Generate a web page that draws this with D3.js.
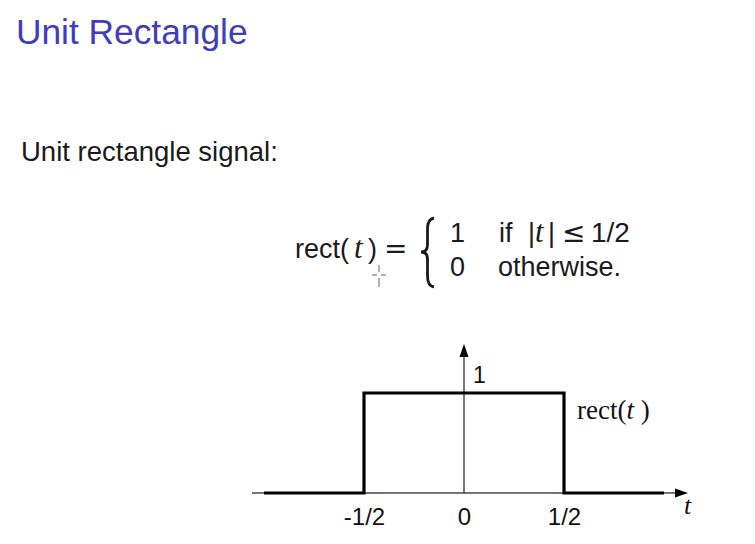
<!DOCTYPE html>
<html><head><meta charset="utf-8">
<script src="https://cdn.jsdelivr.net/npm/d3@7"></script>
<style>
html,body{margin:0;padding:0;background:#fff;}
svg{display:block;}
</style></head>
<body>
<svg id="c" width="755" height="544"></svg>
<script>
// ---- data ----
const signalT = [-1, -0.5, -0.5, 0.5, 0.5, 1];
const signalV = [0, 0, 1, 1, 0, 0];
const tickValues = [-0.5, 0, 0.5];
const tickLabels = ["-1/2", "0", "1/2"];
const axisExtentT = [-1.06, 1.12];
const axisExtentV = [0, 1.49];
const yLabelValue = 1;

const svg = d3.select("#c");
const sans = "'Liberation Sans', Arial, sans-serif";
const serif = "'Liberation Serif', 'Times New Roman', serif";
const dv = "'DejaVu Sans', sans-serif";

// title
svg.append("text").attr("x", 16).attr("y", 44)
  .attr("font-family", sans).attr("font-size", 35.3).attr("fill", "#3d3dbd")
  .text("Unit Rectangle");

// body text
svg.append("text").attr("x", 21).attr("y", 161)
  .attr("font-family", sans).attr("font-size", 27.5).attr("fill", "#1a1a1a")
  .text("Unit rectangle signal:");

// equation
const eq = svg.append("g").attr("font-family", sans).attr("font-size", 27).attr("fill", "#1a1a1a");
eq.append("text").attr("x", 295).attr("y", 258).text("rect(");
eq.append("text").attr("x", 354).attr("y", 258).attr("font-family", serif).attr("font-style", "italic").attr("font-size", 31).text("t");
eq.append("text").attr("x", 368).attr("y", 258).text(")");
eq.append("text").attr("x", 384).attr("y", 258).attr("font-family", dv).attr("font-size", 28).text("=");
eq.append("path")
  .attr("d", "M434,218 Q427.5,219 427.5,229 L427.5,245 Q427.5,252 421,252 Q427.5,252 427.5,259 L427.5,276 Q427.5,286 434,287")
  .attr("fill", "none").attr("stroke", "#1a1a1a").attr("stroke-width", 2.8);
eq.append("text").attr("x", 450).attr("y", 242).text("1");
eq.append("text").attr("x", 499).attr("y", 242).text("if");
eq.append("text").attr("x", 528).attr("y", 242).text("|");
eq.append("text").attr("x", 535).attr("y", 242).attr("font-family", serif).attr("font-style", "italic").attr("font-size", 31).text("t");
eq.append("text").attr("x", 548).attr("y", 242).text("|");
eq.append("text").attr("x", 562).attr("y", 242).attr("font-family", dv).attr("font-size", 28).text("\u2264");
eq.append("text").attr("x", 591).attr("y", 242).attr("font-size", 28).text("1/2");
eq.append("text").attr("x", 450).attr("y", 276).text("0");
eq.append("text").attr("x", 498).attr("y", 276).text("otherwise.");

// cursor artifact
const cur = svg.append("g").attr("stroke", "#666").attr("stroke-width", 1);
cur.append("line").attr("x1", 372).attr("y1", 275).attr("x2", 377).attr("y2", 275);
cur.append("line").attr("x1", 381).attr("y1", 275).attr("x2", 386).attr("y2", 275);
cur.append("line").attr("x1", 379).attr("y1", 265).attr("x2", 379).attr("y2", 272);
cur.append("line").attr("x1", 379).attr("y1", 278).attr("x2", 379).attr("y2", 287);

// ---- plot ----
const x = d3.scaleLinear().domain([-1, 1]).range([264, 664]);
const y = d3.scaleLinear().domain([0, 1]).range([493, 393]);

// axes lines
svg.append("line")
  .attr("x1", x(axisExtentT[0])).attr("y1", y(0))
  .attr("x2", x(axisExtentT[1]) - 10).attr("y2", y(0))
  .attr("stroke", "#444").attr("stroke-width", 1.6);
svg.append("line")
  .attr("x1", x(0)).attr("y1", y(0))
  .attr("x2", x(0)).attr("y2", y(axisExtentV[1]) + 10)
  .attr("stroke", "#333").attr("stroke-width", 1.3);

// arrowheads
const ax = x(axisExtentT[1]), ay = y(0);
svg.append("path").attr("d", `M${ax},${ay} L${ax-13},${ay-4.5} L${ax-13},${ay+4.5} Z`).attr("fill", "#000");
const tx = x(0), ty = y(axisExtentV[1]);
svg.append("path").attr("d", `M${tx},${ty} L${tx-4.5},${ty+13} L${tx+4.5},${ty+13} Z`).attr("fill", "#000");

// signal
const line = d3.line().x(d => x(d[0])).y(d => y(d[1]));
svg.append("path")
  .datum(signalT.map((t, i) => [t, signalV[i]]))
  .attr("d", line)
  .attr("fill", "none").attr("stroke", "#000").attr("stroke-width", 3.2)
  .attr("stroke-linejoin", "miter");

// tick labels via axis
const xAxis = d3.axisBottom(x).tickValues(tickValues).tickSize(0).tickPadding(15)
  .tickFormat((d, i) => tickLabels[i]);
const gx = svg.append("g").attr("transform", `translate(0,${y(0)})`).call(xAxis);
gx.select(".domain").remove();
gx.attr("font-size", 24).attr("font-family", sans);
gx.selectAll("text").attr("font-family", sans).attr("font-size", 24).attr("fill", "#111");

// y label "1"
svg.append("text").attr("x", x(0) + 9).attr("y", y(yLabelValue) - 10)
  .attr("font-family", sans).attr("font-size", 23).attr("fill", "#111").text("1");

// signal label
const rl = svg.append("text").attr("x", 577).attr("y", 419)
  .attr("font-family", serif).attr("font-size", 27).attr("fill", "#111");
rl.append("tspan").text("rect(");
rl.append("tspan").attr("font-style", "italic").text("t");
rl.append("tspan").text(" )");

// axis label t
svg.append("text").attr("x", ax - 4).attr("y", ay + 21)
  .attr("font-family", serif).attr("font-style", "italic").attr("font-size", 26).attr("fill", "#111").text("t");
</script>
</body></html>
